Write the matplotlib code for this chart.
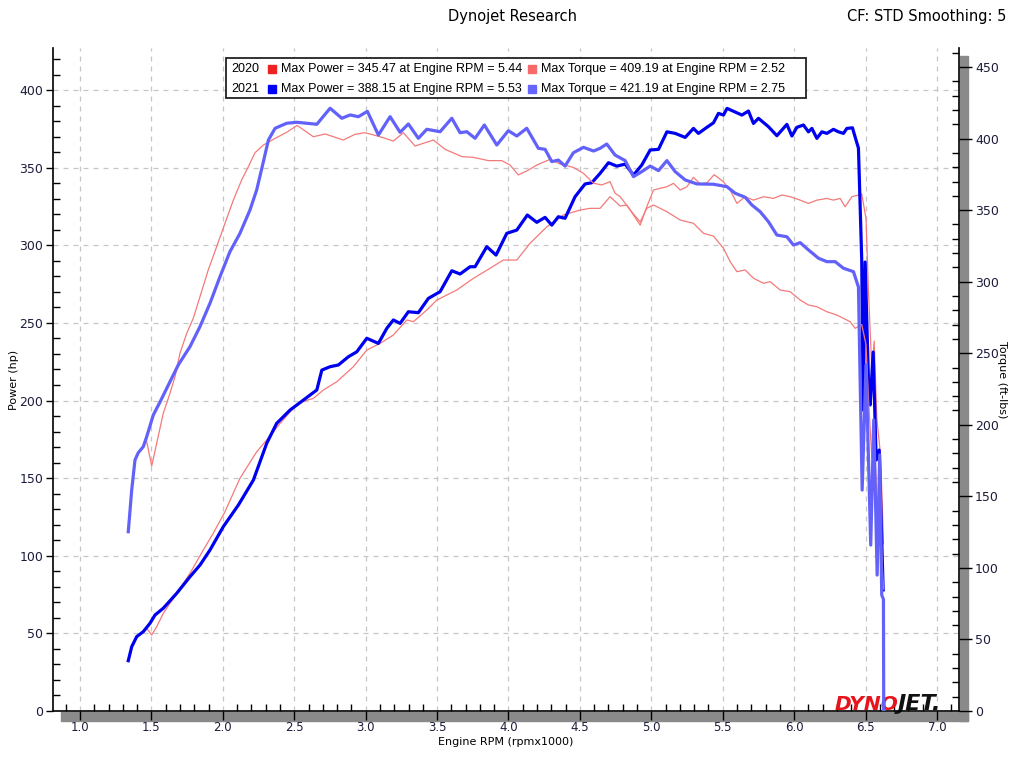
import matplotlib.pyplot as plt
from matplotlib.patches import Rectangle
from matplotlib.ticker import MultipleLocator

# ---- 2021 run (rpm x1000, hp / ft-lbs) ----
rpm_hp21 = [1.338, 1.362, 1.397, 1.443, 1.490, 1.525, 1.583, 1.677, 1.770, 1.840,
            1.910, 2.003, 2.109, 2.214, 2.307, 2.377, 2.471, 2.564, 2.658, 2.693,
            2.751, 2.809, 2.879, 2.938, 3.008, 3.089, 3.148, 3.194, 3.241, 3.299,
            3.369, 3.439, 3.521, 3.603, 3.661, 3.731, 3.766, 3.848, 3.913, 3.988,
            4.058, 4.132, 4.198, 4.256, 4.303, 4.349, 4.396, 4.466, 4.536, 4.583,
            4.641, 4.700, 4.758, 4.817, 4.875, 4.933, 4.992, 5.050, 5.109, 5.167,
            5.237, 5.295, 5.330, 5.389, 5.435, 5.470, 5.505, 5.530, 5.634, 5.680,
            5.715, 5.750, 5.820, 5.879, 5.949, 5.984, 6.019, 6.065, 6.100, 6.124,
            6.159, 6.194, 6.229, 6.275, 6.310, 6.345, 6.369, 6.408, 6.427, 6.450,
            6.473, 6.483, 6.497, 6.522, 6.532, 6.553, 6.574, 6.595, 6.623]
hp21 = [32.4, 41.4, 47.9, 51.1, 56.5, 61.8, 66.2, 75.8, 86.5, 94.0,
        103.7, 118.7, 132.7, 148.8, 172.4, 185.3, 193.9, 200.3, 206.8, 219.6,
        221.8, 222.9, 228.2, 231.4, 240.1, 236.8, 246.5, 251.9, 249.7, 257.2,
        256.6, 265.8, 270.1, 283.6, 281.5, 286.2, 286.2, 299.1, 293.7, 307.7,
        309.8, 319.5, 314.8, 318.0, 313.0, 318.4, 317.4, 331.3, 339.5, 340.3,
        346.3, 353.2, 351.0, 352.3, 345.2, 351.7, 361.4, 361.8, 373.1, 372.1,
        369.5, 375.3, 372.1, 376.0, 378.9, 385.0, 383.9, 388.2, 383.9, 386.5,
        378.5, 381.8, 376.4, 370.6, 377.9, 370.4, 376.0, 377.5, 373.1, 375.3,
        368.9, 373.1, 372.1, 374.7, 373.1, 372.1, 375.3, 375.7, 369.7, 362.6,
        290.5, 193.9, 289.2, 206.8, 197.1, 231.2, 161.7, 168.1, 78.0]

rpm_tq21 = [1.338, 1.362, 1.385, 1.408, 1.443, 1.467, 1.513, 1.560, 1.630, 1.688,
            1.770, 1.840, 1.910, 1.980, 2.050, 2.120, 2.190, 2.237, 2.284, 2.319,
            2.366, 2.447, 2.518, 2.588, 2.658, 2.751, 2.833, 2.891, 2.949, 3.012,
            3.089, 3.171, 3.241, 3.299, 3.369, 3.428, 3.521, 3.603, 3.661, 3.708,
            3.766, 3.831, 3.918, 3.999, 4.058, 4.128, 4.209, 4.256, 4.303, 4.349,
            4.396, 4.454, 4.525, 4.595, 4.641, 4.688, 4.746, 4.817, 4.875, 4.933,
            4.992, 5.050, 5.109, 5.167, 5.237, 5.319, 5.435, 5.529, 5.587, 5.657,
            5.704, 5.762, 5.820, 5.879, 5.949, 5.995, 6.042, 6.100, 6.170, 6.229,
            6.287, 6.345, 6.415, 6.450, 6.476, 6.503, 6.536, 6.557, 6.581, 6.599,
            6.613, 6.625, 6.627]
tq21 = [125.3, 154.4, 175.4, 180.5, 184.7, 191.7, 206.8, 215.9, 230.1, 241.8,
        254.6, 268.6, 284.9, 303.5, 321.0, 333.8, 350.1, 364.1, 383.9, 399.0,
        407.2, 410.7, 411.4, 410.7, 410.0, 421.2, 414.2, 416.5, 415.3, 419.0,
        402.5, 415.3, 404.4, 410.2, 400.2, 406.5, 404.8, 414.2, 404.1, 404.8,
        400.2, 409.5, 395.5, 405.5, 401.8, 407.2, 393.2, 392.5, 383.9, 385.0,
        380.8, 390.1, 393.9, 391.3, 393.2, 396.2, 388.5, 384.6, 373.4, 376.9,
        380.8, 377.6, 384.6, 376.9, 371.1, 368.3, 368.1, 366.4, 361.8, 359.0,
        353.6, 348.9, 341.9, 332.6, 331.4, 325.6, 327.3, 322.2, 316.4, 314.0,
        314.0, 309.4, 307.0, 296.3, 154.4, 241.8, 116.0, 203.4, 95.0, 178.9,
        81.1, 78.0, 0.0]

# ---- 2020 run ----
rpm_hp20 = [1.467, 1.502, 1.537, 1.583, 1.677, 1.770, 1.863, 1.933, 2.015, 2.120,
            2.237, 2.307, 2.401, 2.494, 2.553, 2.634, 2.704, 2.798, 2.914, 3.008,
            3.101, 3.194, 3.288, 3.334, 3.428, 3.498, 3.638, 3.754, 3.871, 3.964,
            4.058, 4.151, 4.268, 4.384, 4.501, 4.571, 4.641, 4.711, 4.782, 4.829,
            4.875, 4.922, 4.968, 5.015, 5.062, 5.109, 5.155, 5.202, 5.249, 5.295,
            5.342, 5.389, 5.440, 5.505, 5.552, 5.599, 5.657, 5.715, 5.785, 5.855,
            5.914, 5.972, 6.042, 6.100, 6.159, 6.229, 6.275, 6.322, 6.357, 6.404,
            6.450, 6.473, 6.503, 6.520, 6.544, 6.560, 6.579, 6.602, 6.614, 6.625]
hp20 = [53.3, 49.0, 54.3, 62.9, 75.8, 88.7, 103.7, 114.5, 128.4, 149.9,
        167.0, 174.6, 185.3, 195.0, 199.2, 201.4, 206.8, 212.1, 221.8, 232.5,
        236.8, 242.2, 251.9, 250.8, 258.3, 264.7, 271.2, 278.7, 285.2, 290.5,
        290.5, 301.3, 311.9, 319.5, 322.7, 323.8, 323.8, 331.3, 325.3, 325.9,
        319.5, 313.0, 324.8, 335.6, 336.7, 337.7, 339.9, 335.6, 337.7, 343.8,
        339.5, 340.3, 345.5, 340.9, 335.6, 327.0, 331.3, 329.1, 331.3, 330.2,
        332.4, 331.3, 329.1, 327.0, 329.1, 330.2, 329.1, 330.2, 324.8, 331.3,
        332.4, 333.0, 317.2, 270.7, 219.0, 238.3, 188.1, 167.5, 141.3, 107.7]

rpm_tq20 = [1.467, 1.502, 1.537, 1.583, 1.630, 1.665, 1.700, 1.747, 1.793, 1.840,
            1.898, 1.957, 2.015, 2.074, 2.132, 2.179, 2.225, 2.284, 2.354, 2.447,
            2.520, 2.634, 2.716, 2.844, 2.926, 2.996, 3.101, 3.194, 3.264, 3.346,
            3.404, 3.474, 3.556, 3.673, 3.754, 3.859, 3.953, 4.011, 4.069, 4.139,
            4.198, 4.291, 4.361, 4.454, 4.525, 4.595, 4.653, 4.711, 4.746, 4.782,
            4.852, 4.922, 4.968, 5.015, 5.109, 5.202, 5.295, 5.365, 5.435, 5.505,
            5.552, 5.599, 5.657, 5.715, 5.785, 5.832, 5.902, 5.972, 6.042, 6.100,
            6.159, 6.229, 6.299, 6.345, 6.392, 6.427, 6.473, 6.503, 6.520, 6.544,
            6.560, 6.579, 6.602, 6.625]
tq20 = [188.2, 171.2, 187.1, 208.0, 222.0, 233.6, 250.0, 263.9, 274.4, 289.5,
        308.2, 324.5, 340.8, 357.1, 371.1, 380.4, 390.1, 395.5, 399.5, 404.4,
        409.2, 401.3, 403.2, 399.0, 403.0, 404.1, 401.3, 398.3, 404.1, 394.8,
        396.7, 399.0, 392.5, 387.4, 386.9, 384.6, 384.6, 381.5, 374.6, 378.0,
        381.5, 385.5, 382.2, 379.9, 375.7, 368.8, 367.6, 369.9, 361.8, 359.4,
        350.1, 341.7, 351.3, 353.6, 348.9, 343.1, 340.8, 333.8, 331.9, 323.3,
        314.0, 307.0, 308.2, 302.4, 298.9, 300.0, 294.2, 293.0, 287.2, 283.7,
        282.5, 279.0, 276.7, 274.4, 272.0, 267.4, 270.0, 256.0, 218.7, 176.8,
        191.5, 150.9, 134.2, 85.3]

legend_years = ["2020", "2021"]
legend_power = ["Max Power = 345.47 at Engine RPM = 5.44",
                "Max Power = 388.15 at Engine RPM = 5.53"]
legend_torque = ["Max Torque = 409.19 at Engine RPM = 2.52",
                 "Max Torque = 421.19 at Engine RPM = 2.75"]
power_colors = ["#ee2222", "#0000ff"]
torque_colors = ["#f76a6a", "#6666ff"]

W, H = 1024, 768


def fx(x):
    return x / W


def fy(y):
    return 1 - y / H


fig = plt.figure(figsize=(W / 100, H / 100), dpi=100)
ax = fig.add_axes([fx(53), fy(711), fx(959) - fx(53), fy(48) - fy(711)])
ax2 = ax.twinx()

# drop shadows around the axes
shade = "#8a8a8a"
fig.add_artist(Rectangle((fx(61), fy(721)), fx(968) - fx(61), fy(712) - fy(721),
                         transform=fig.transFigure, color=shade, zorder=-1))
fig.add_artist(Rectangle((fx(960), fy(721)), fx(968) - fx(960), fy(56) - fy(721),
                         transform=fig.transFigure, color=shade, zorder=-1))

# logo, drawn inside the axes below the curves
ax.text(fx(898), fy(704), "DYNO", ha="right", va="center", fontsize=14.5,
        fontweight="heavy", style="italic", color="#e8141c",
        transform=fig.transFigure, zorder=1)
ax.text(fx(898), fy(704), "JET.", ha="left", va="center", fontsize=16,
        fontweight="heavy", style="italic", color="#111111",
        transform=fig.transFigure, zorder=1)

# curves
ax.plot(rpm_hp20, hp20, color="#f47a7a", lw=0.9, zorder=2)
ax2.plot(rpm_tq20, tq20, color="#f47a7a", lw=0.9)
ax.plot(rpm_hp21, hp21, color="#0000f0", lw=2.3, solid_joinstyle="round", zorder=3)
ax2.plot(rpm_tq21, tq21, color="#6262fa", lw=2.3, solid_joinstyle="round")

ax.set_xlim(0.811, 7.154)
ax.set_ylim(0, 427.1)
ax2.set_ylim(0, 463.3)

ax.xaxis.set_major_locator(MultipleLocator(0.5))
ax.xaxis.set_minor_locator(MultipleLocator(0.1))
ax.yaxis.set_major_locator(MultipleLocator(50))
ax.yaxis.set_minor_locator(MultipleLocator(10))
ax2.yaxis.set_major_locator(MultipleLocator(50))
ax2.yaxis.set_minor_locator(MultipleLocator(10))
ax.xaxis.set_major_formatter(plt.FormatStrFormatter("%.1f"))

lab_col = "#1c1c3a"
ax.tick_params(axis="x", which="major", direction="out", length=6.5, width=1,
               pad=1, labelsize=8.5, labelcolor=lab_col)
ax.tick_params(axis="x", which="minor", direction="in", length=5, width=1)
ax.tick_params(axis="y", which="major", direction="out", length=5, width=1,
               pad=2, labelsize=9, labelcolor=lab_col)
ax.tick_params(axis="y", which="minor", direction="in", length=5, width=1)
ax2.tick_params(axis="y", which="major", direction="out", length=9.5, width=1,
                pad=2, labelsize=9, labelcolor=lab_col)
ax2.tick_params(axis="y", which="minor", direction="in", length=5, width=1)

for s in ["top", "right"]:
    ax.spines[s].set_visible(False)
for s in ["top", "left", "bottom"]:
    ax2.spines[s].set_visible(False)
for sp in [ax.spines["left"], ax.spines["bottom"], ax2.spines["right"]]:
    sp.set_linewidth(1.2)

ax.grid(which="major", color="#c6c6c6", linestyle=(0, (4, 4)), linewidth=0.9)
ax.set_axisbelow(True)

ax.set_xlabel("Engine RPM (rpmx1000)", fontsize=8, labelpad=2)
ax.set_ylabel("Power (hp)", fontsize=8, labelpad=0)
ax2.set_ylabel("Torque (ft-lbs)", fontsize=8, rotation=270, labelpad=6)

# titles
fig.text(fx(512), fy(17), "Dynojet Research", ha="center", va="center", fontsize=10.5)
fig.text(fx(1006), fy(17), "CF: STD Smoothing: 5", ha="right", va="center", fontsize=10.5)

# legend box
fig.add_artist(Rectangle((fx(226), fy(98)), fx(806) - fx(226), fy(58) - fy(98),
                         transform=fig.transFigure, facecolor="white",
                         edgecolor="#222222", lw=1.3, zorder=5))
for i, year in enumerate(legend_years):
    y = 69 + 20 * i
    fig.text(fx(231), fy(y), year, va="center", fontsize=9,
             family="Liberation Sans", zorder=6)
    fig.add_artist(Rectangle((fx(268), fy(y + 4)), fx(276) - fx(268), fy(y - 4) - fy(y + 4),
                             transform=fig.transFigure, color=power_colors[i], zorder=6))
    fig.text(fx(281), fy(y), legend_power[i], va="center", fontsize=9,
             family="Liberation Sans", zorder=6)
    fig.add_artist(Rectangle((fx(528), fy(y + 4)), fx(536) - fx(528), fy(y - 4) - fy(y + 4),
                             transform=fig.transFigure, color=torque_colors[i], zorder=6))
    fig.text(fx(541), fy(y), legend_torque[i], va="center", fontsize=9,
             family="Liberation Sans", zorder=6)

fig.savefig("out.png", dpi=100)
